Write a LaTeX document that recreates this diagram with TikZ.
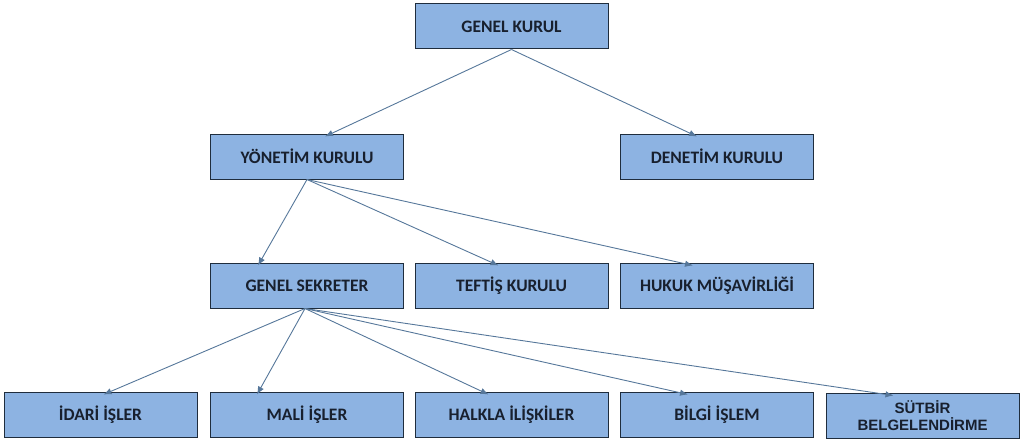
\documentclass[tikz,border=0pt]{standalone}
\usepackage{fontspec}
\setmainfont{Carlito}
\newfontfamily\arialf{Liberation Sans}
\usetikzlibrary{arrows.meta}
\definecolor{boxfill}{HTML}{8DB3E2}
\definecolor{boxline}{HTML}{1F2D3D}
\definecolor{txt}{HTML}{18202E}
\definecolor{arr}{HTML}{56779A}
\tikzset{
  unit/.style={draw=boxline, line width=1pt, fill=boxfill, minimum width=193pt, minimum height=45pt,
    inner sep=0pt, text=txt, font=\fontsize{17.5}{19}\selectfont\bfseries, align=center},
  link/.style={draw=arr, line width=0.9pt, -{Latex[length=8pt,width=6.5pt]}}
}
\begin{document}
\begin{tikzpicture}[x=1pt,y=-1pt]
\useasboundingbox (0,0) rectangle (1024,444);
\node[unit] (gk) at (511.5,26.5) {GENEL KURUL};
\node[unit] (yk) at (307,156.5) {YÖNETİM KURULU};
\node[unit] (dk) at (717,156.5) {DENETİM KURULU};
\node[unit] (gs) at (307,285.5) {GENEL SEKRETER};
\node[unit] (tk) at (511.5,285.5) {TEFTİŞ KURULU};
\node[unit] (hm) at (717,285.5) {HUKUK MÜŞAVİRLİĞİ};
\node[unit] (id) at (100.5,414.5) {İDARİ İŞLER};
\node[unit] (mi) at (307,414.5) {MALİ İŞLER};
\node[unit] (hi) at (511.5,414.5) {HALKLA İLİŞKİLER};
\node[unit] (bi) at (717,414.5) {BİLGİ İŞLEM};
\node[unit, font=\arialf\fontsize{15}{16.5}\selectfont\bfseries] (sb) at (922.5,415.5) {SÜTBİR\\BELGELENDİRME};
\draw[link] (gk.south) -- ([xshift=18pt,yshift=-3pt]yk.north);
\draw[link] (gk.south) -- ([xshift=-20pt,yshift=-3pt]dk.north);
\draw[link] (yk.south) -- ([xshift=-49pt,yshift=-3pt]gs.north);
\draw[link] (yk.south) -- ([xshift=-13pt,yshift=-3pt]tk.north);
\draw[link] (yk.south) -- ([xshift=-24pt,yshift=-3pt]hm.north);
\draw[link] ([xshift=-2pt]gs.south) -- ([xshift=3pt,yshift=-3pt]id.north);
\draw[link] ([xshift=-2pt]gs.south) -- ([xshift=-50pt,yshift=-3pt]mi.north);
\draw[link] ([xshift=-2pt]gs.south) -- ([xshift=-23pt,yshift=-3pt]hi.north);
\draw[link] ([xshift=-2pt]gs.south) -- ([xshift=-29pt,yshift=-3pt]bi.north);
\draw[link] ([xshift=-2pt]gs.south) -- ([xshift=-29pt,yshift=-3pt]sb.north);
\end{tikzpicture}
\end{document}
